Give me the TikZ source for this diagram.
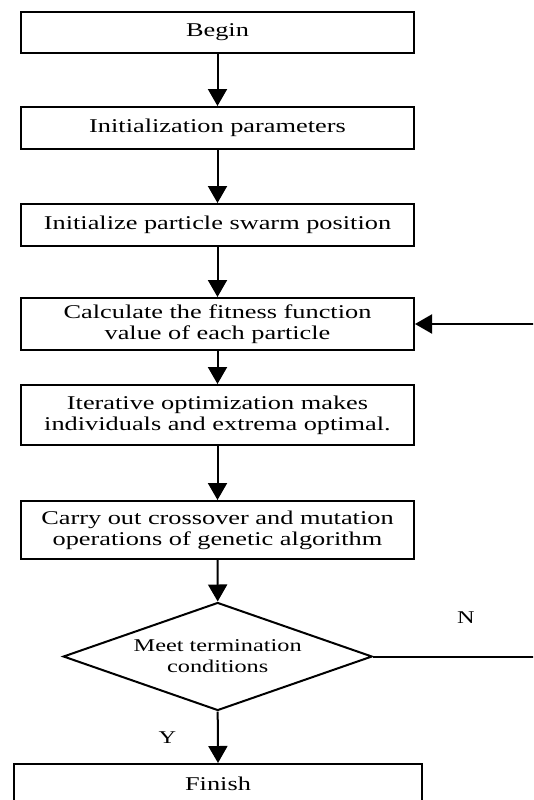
\documentclass[tikz,border=0pt]{standalone}
\usepackage{fontspec}
\setmainfont{Liberation Serif}[FakeStretch=1.35]
\usetikzlibrary{arrows.meta,shapes.geometric}
\begin{document}
\begin{tikzpicture}[x=1pt,y=-1pt,line width=2pt,
  box/.style={draw,rectangle,minimum width=393pt,inner sep=0pt,align=center,
    font=\fontsize{19.5}{21}\selectfont},
  dec/.style={draw,diamond,aspect=2.86,minimum width=309pt,minimum height=108pt,inner sep=0pt,
    align=center,font=\fontsize{18}{21}\selectfont},
  lbl/.style={font=\fontsize{18}{21}\selectfont,inner sep=0pt},
  arr/.style={-{Triangle[length=17pt,width=19pt]}}]
\useasboundingbox (0,0) rectangle (533,800);
\fill[white] (0,0) rectangle (533,800);
\clip (0,0) rectangle (533,800);
\node[box,minimum height=41pt] (b1) at (217.5,32.5) {Begin};
\node[box,minimum height=42pt] (b2) at (217.5,128) {Initialization parameters};
\node[box,minimum height=42pt] (b3) at (217.5,225) {Initialize particle swarm position};
\node[box,minimum height=52pt] (b4) at (217.5,324) {Calculate the fitness function\\value of each particle};
\node[box,minimum height=60pt] (b5) at (217.5,415) {Iterative optimization makes\\individuals and extrema optimal.};
\node[box,minimum height=58pt] (b6) at (217.5,530) {Carry out crossover and mutation\\operations of genetic algorithm};
\node[dec] (d) at (217.7,656.5) {Meet termination\\conditions};
\node[box,minimum width=408pt,minimum height=40pt] (fin) at (218,784) {Finish};
\node[lbl] (n) at (466,618) {N};
\node[lbl] (y) at (167.5,738) {Y};
\coordinate (r1) at (534,324);
\coordinate (r2) at (534,656.5);
\draw[arr] (b1) -- (b2);
\draw[arr] (b2) -- (b3);
\draw[arr] (b3) -- (b4);
\draw[arr] (b4) -- (b5);
\draw[arr] (b5) -- (b6);
\draw[arr] (b6.south) -- (d.north);
\draw[arr] (d.south) -- (fin.north);
\draw[arr] (r1) -- (b4.east);
\draw (d.east) -- (r2);
\end{tikzpicture}
\end{document}
